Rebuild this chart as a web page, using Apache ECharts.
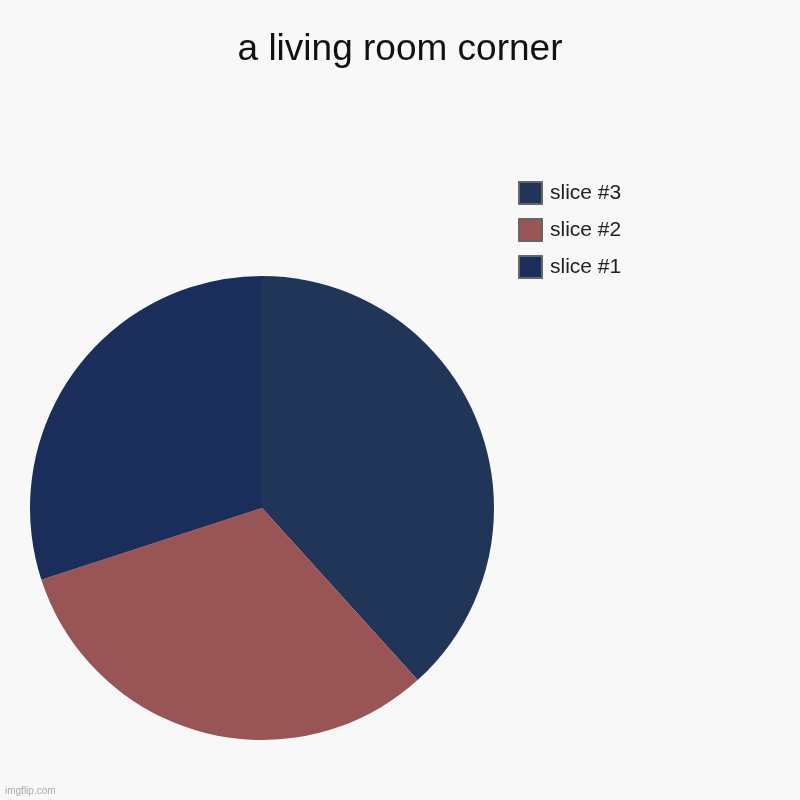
<!DOCTYPE html>
<html><head><meta charset="utf-8">
<script src="https://cdn.jsdelivr.net/npm/echarts@6/dist/echarts.min.js"></script>
<style>html,body{margin:0;padding:0;background:#f8f8f8}#c{width:800px;height:800px}</style>
</head><body><div id="c"></div>
<script>
const titleText = 'a living room corner';
const categories = ['slice #3', 'slice #2', 'slice #1'];
const values = [38.3, 31.7, 30];
const colors = ['#203558', '#995555', '#1b2d5a'];

const chart = echarts.init(document.getElementById('c'));
chart.setOption({
  backgroundColor: '#f8f8f8',
  animation: false,
  title: {
    text: titleText, left: 'center', top: 26,
    textStyle: { fontFamily: 'Liberation Sans, Arial', fontSize: 37, fontWeight: 'normal', color: '#111' }
  },
  legend: {
    orient: 'vertical', left: 513, top: 176, itemWidth: 23, itemHeight: 22, itemGap: 13,
    icon: 'rect',
    itemStyle: { borderColor: '#666', borderWidth: 2 },
    textStyle: { fontFamily: 'Liberation Sans, Arial', fontSize: 21, color: '#222', padding: [0, 0, 0, 3], lineHeight: 22 },
    data: categories
  },
  graphic: [{
    type: 'text', left: 5, top: 786,
    style: { text: 'imgflip.com', fill: '#aaa', font: '10px Liberation Sans, Arial' }
  }],
  series: [{
    type: 'pie', center: [262, 508], radius: 232, startAngle: 90, clockwise: true,
    label: { show: false }, labelLine: { show: false },
    itemStyle: { borderWidth: 0 },
    emphasis: { disabled: true },
    data: categories.map((n, i) => ({ name: n, value: values[i], itemStyle: { color: colors[i] } }))
  }]
});
</script></body></html>
